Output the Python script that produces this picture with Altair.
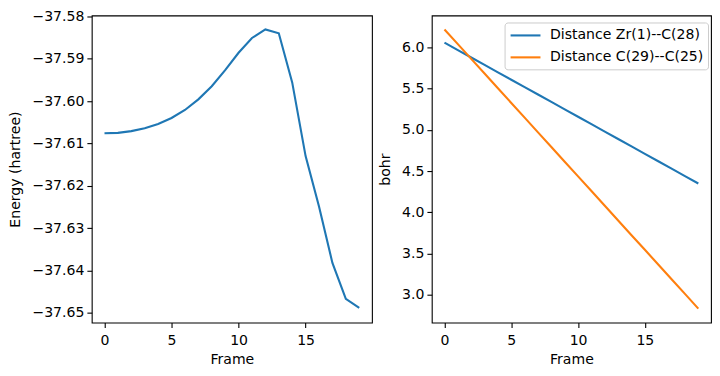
import altair as alt
import pandas as pd

frames = list(range(20))
energy = [-37.6076, -37.6075, -37.6071, -37.6064, -37.6054, -37.6040, -37.6021,
          -37.5996, -37.5965, -37.5927, -37.5886, -37.5851, -37.5831, -37.5840,
          -37.5956, -37.6130, -37.6249, -37.6382, -37.6467, -37.6488]
dist_zr1_c28 = [6.060, 5.970, 5.880, 5.790, 5.700, 5.610, 5.520, 5.430, 5.340, 5.250,
                5.160, 5.070, 4.980, 4.890, 4.800, 4.710, 4.620, 4.530, 4.440, 4.350]
dist_c29_c25 = [6.220, 6.042, 5.863, 5.685, 5.506, 5.328, 5.150, 4.971, 4.793, 4.614,
                4.436, 4.258, 4.079, 3.901, 3.722, 3.544, 3.366, 3.187, 3.009, 2.830]
series_names = ["Distance Zr(1)--C(28)", "Distance C(29)--C(25)"]
series_colors = ["#1f77b4", "#ff7f0e"]
x_ticks = [0, 5, 10, 15]
energy_ticks = [-37.58, -37.59, -37.60, -37.61, -37.62, -37.63, -37.64, -37.65]
bohr_ticks = [3.0, 3.5, 4.0, 4.5, 5.0, 5.5, 6.0]

FS = 14.1
FONT = "DejaVu Sans"

df_e = pd.DataFrame({"Frame": frames, "Energy": energy})
df_d = pd.concat([
    pd.DataFrame({"Frame": frames, "bohr": dist_zr1_c28, "series": series_names[0]}),
    pd.DataFrame({"Frame": frames, "bohr": dist_c29_c25, "series": series_names[1]}),
])

xenc = alt.X("Frame:Q", title="Frame",
             scale=alt.Scale(domain=[-0.95, 19.95], nice=False, zero=False),
             axis=alt.Axis(values=x_ticks, format="d"))

left = alt.Chart(df_e).mark_line(color="#1f77b4", strokeWidth=2.1).encode(
    x=xenc,
    y=alt.Y("Energy:Q", title="Energy (hartree)",
            scale=alt.Scale(domain=[-37.6523, -37.5798], nice=False, zero=False),
            axis=alt.Axis(values=energy_ticks, format=".2f", titlePadding=9)),
).properties(width=281, height=308)

right = alt.Chart(df_d).mark_line(strokeWidth=2.1).encode(
    x=xenc,
    y=alt.Y("bohr:Q", title="bohr",
            scale=alt.Scale(domain=[2.66, 6.39], nice=False, zero=False),
            axis=alt.Axis(values=bohr_ticks, format=".1f", titlePadding=9)),
    color=alt.Color("series:N", sort=series_names,
                    scale=alt.Scale(domain=series_names, range=series_colors),
                    legend=alt.Legend(orient="none", legendX=73, legendY=7, title=None,
                                      symbolType="M-2.14,0H2.14", symbolSize=196,
                                      symbolStrokeWidth=2.1, symbolOffset=8,
                                      labelOffset=16, labelFontSize=FS, labelFont=FONT,
                                      labelColor="black", padding=4.5, rowPadding=6,
                                      fillColor="white", strokeColor="#cccccc",
                                      cornerRadius=3)),
).properties(width=280, height=308)

chart = alt.hconcat(left, right, spacing=5).resolve_legend(color="independent").properties(
    padding={"left": 0, "top": 0, "right": 0, "bottom": 0}
).configure_view(stroke="black", strokeWidth=1.1).configure_axis(
    grid=False, domain=False, tickColor="black", tickSize=4.9, tickWidth=1.1,
    labelFontSize=FS, labelFont=FONT, labelColor="black", labelPadding=3,
    labelFlush=False, labelOverlap=False,
    titleFontSize=FS, titleFont=FONT, titleFontWeight="normal", titleColor="black",
).configure_axisX(titlePadding=5, labelPadding=6)

chart.save("out.html", embed_options={"renderer": "svg", "actions": False})
